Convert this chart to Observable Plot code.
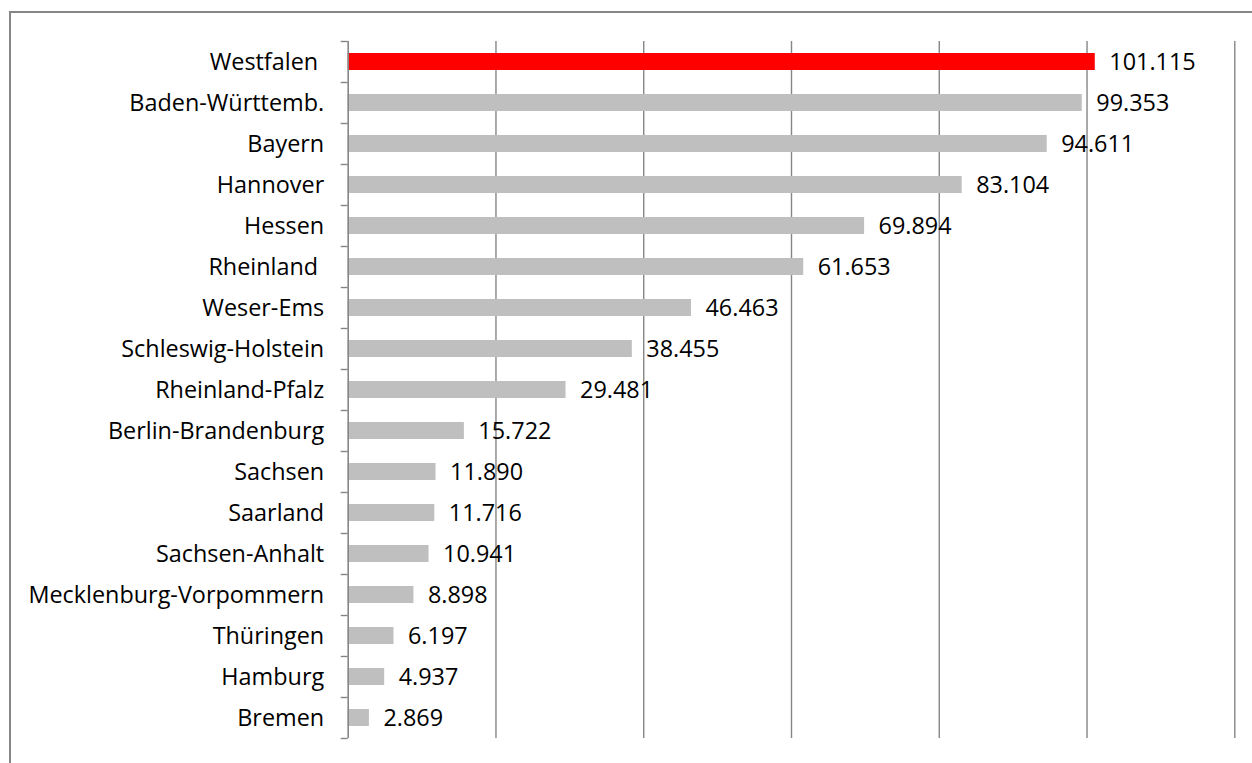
<!DOCTYPE html>
<html>
<head>
<meta charset="utf-8">
<script src="https://cdn.jsdelivr.net/npm/d3@7"></script>
<script src="https://cdn.jsdelivr.net/npm/@observablehq/plot@0.6"></script>
<style>
  html, body { margin: 0; padding: 0; background: #fff; overflow: hidden; }
  #frame { position: absolute; left: 9px; top: 11px; width: 1400px; height: 900px;
           border: 2px solid #868686; box-sizing: border-box; }
  #chart { position: absolute; left: 0; top: 0; }
</style>
</head>
<body>
<div id="frame"></div>
<div id="chart"></div>
<script>
const categories = [
  "Westfalen ", "Baden-Württemb.", "Bayern", "Hannover", "Hessen", "Rheinland ",
  "Weser-Ems", "Schleswig-Holstein", "Rheinland-Pfalz", "Berlin-Brandenburg",
  "Sachsen", "Saarland", "Sachsen-Anhalt", "Mecklenburg-Vorpommern",
  "Thüringen", "Hamburg", "Bremen"
];
const values = [
  101115, 99353, 94611, 83104, 69894, 61653, 46463, 38455, 29481, 15722,
  11890, 11716, 10941, 8898, 6197, 4937, 2869
];
const highlight = "Westfalen ";
const xTicks = [20000, 40000, 60000, 80000, 100000, 120000];

const data = categories.map((c, i) => ({name: c, value: values[i]}));
const de = d3.formatLocale({decimal: ",", thousands: ".", grouping: [3], currency: ["", " €"]});
const fmt = de.format(",d");
const lastCat = categories[categories.length - 1];

const W = 1252, H = 763;
const mTop = 41, mBottom = 25, mLeft = 347.7, mRight = 17.7;
const step = (H - mTop - mBottom) / categories.length;

const chart = Plot.plot({
  width: W,
  height: H,
  marginTop: mTop,
  marginBottom: mBottom,
  marginLeft: mLeft,
  marginRight: mRight,
  style: {fontFamily: "'Open Sans', sans-serif", fontSize: "23.4px", color: "#000", background: "transparent"},
  x: {domain: [0, 120000], axis: null, label: null},
  y: {domain: categories, paddingInner: 0.59, paddingOuter: 0.295, axis: null, label: null},
  marks: [
    Plot.gridX({ticks: xTicks, stroke: "#868686", strokeOpacity: 1, strokeWidth: 1.4}),
    Plot.barX(data, {y: "name", x: "value", fill: d => d.name === highlight ? "#FF0000" : "#BFBFBF"}),
    Plot.ruleX([0], {stroke: "#868686", strokeWidth: 1.6}),
    Plot.axisY({ticks: categories, tickSize: 7, tickFormat: () => "", label: null, dy: -step / 2, stroke: "#868686", strokeWidth: 1.4}),
    Plot.axisY({ticks: [lastCat], tickSize: 7, tickFormat: () => "", label: null, dy: step / 2, stroke: "#868686", strokeWidth: 1.4}),
    Plot.axisY({ticks: categories, tickSize: 0, tickPadding: 24, fill: "#000", label: null,
                tickFormat: d => d.replace(/ $/, "\u00A0")}),
    Plot.text(data, {y: "name", x: "value", text: d => fmt(d.value), textAnchor: "start", dx: 14, fill: "#000"})
  ]
});
document.getElementById("chart").appendChild(chart);
</script>
</body>
</html>
